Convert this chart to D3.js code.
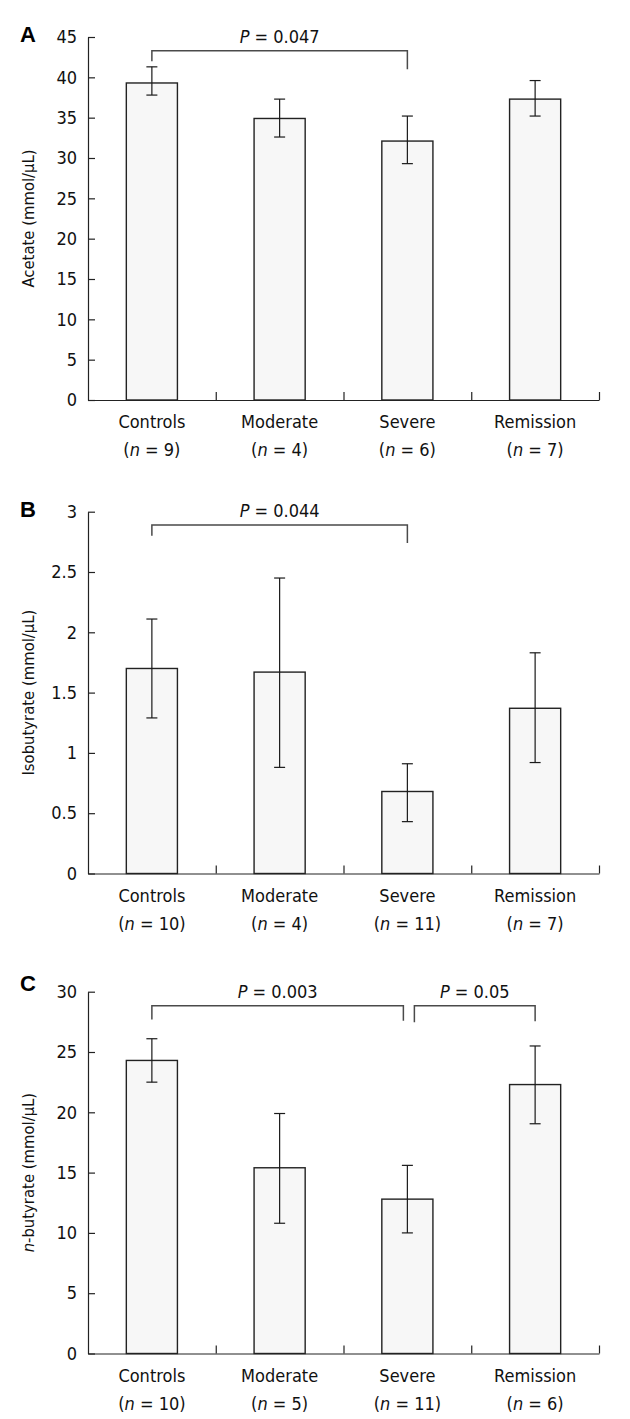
<!DOCTYPE html>
<html>
<head>
<meta charset="utf-8">
<script src="https://cdn.jsdelivr.net/npm/d3@7"></script>
<style>
  html, body { margin: 0; padding: 0; background: #fff; }
  svg { display: block; }
  .t { font-family: "DejaVu Sans Condensed", "DejaVu Sans", sans-serif; font-stretch: condensed; fill: #111; }
</style>
</head>
<body>
<svg id="chart" width="630" height="1419"></svg>
<script>
// ---------------- DATA ----------------
const categories = ["Controls", "Moderate", "Severe", "Remission"];

const acetateN    = [9, 4, 6, 7];
const acetateMean = [39.3, 34.9, 32.1, 37.3];
const acetateHigh = [41.3, 37.3, 35.2, 39.6];
const acetateLow  = [37.8, 32.6, 29.3, 35.2];
const acetateTicks = [0, 5, 10, 15, 20, 25, 30, 35, 40, 45];

const isobutyrateN    = [10, 4, 11, 7];
const isobutyrateMean = [1.70, 1.67, 0.68, 1.37];
const isobutyrateHigh = [2.11, 2.45, 0.91, 1.83];
const isobutyrateLow  = [1.29, 0.88, 0.43, 0.92];
const isobutyrateTicks = [0, 0.5, 1, 1.5, 2, 2.5, 3];

const butyrateN    = [10, 5, 11, 6];
const butyrateMean = [24.3, 15.4, 12.8, 22.3];
const butyrateHigh = [26.1, 19.9, 15.6, 25.5];
const butyrateLow  = [22.5, 10.8, 10.0, 19.05];
const butyrateTicks = [0, 5, 10, 15, 20, 25, 30];

// significance brackets: from category, to category, bracket level, leg ends, p-label
const acetateBrackets = [
  { from: "Controls", to: "Severe", level: 43.3, legFrom: 42.0, legTo: 41.0, p: "0.047" }
];
const isobutyrateBrackets = [
  { from: "Controls", to: "Severe", level: 2.89, legFrom: 2.80, legTo: 2.74, p: "0.044" }
];
const butyrateBrackets = [
  { from: "Controls", to: "Severe", level: 28.84, legFrom: 27.7, legTo: 27.6, p: "0.003", dxFrom: 0, dxTo: -4 },
  { from: "Severe", to: "Remission", level: 28.84, legFrom: 27.46, legTo: 27.55, p: "0.05", dxFrom: 7, dxTo: 0 }
];

// ---------------- LAYOUT ----------------
const svg = d3.select("#chart");
const xLeft = 88, xRight = 599;
const x = d3.scaleBand().domain(categories).range([xLeft, xRight]).paddingInner(0.6).paddingOuter(0.3);
const xBound = d3.scaleLinear().domain([0, categories.length]).range([xLeft, xRight]);

const panels = [
  { letter: "A", top: 37, bottom: 400, max: 45, ticks: acetateTicks, mean: acetateMean, high: acetateHigh, low: acetateLow, n: acetateN, brackets: acetateBrackets, label: [{ t: "Acetate (mmol/μL)" }], letterY: 42 },
  { letter: "B", top: 511.7, bottom: 873.5, max: 3, ticks: isobutyrateTicks, mean: isobutyrateMean, high: isobutyrateHigh, low: isobutyrateLow, n: isobutyrateN, brackets: isobutyrateBrackets, label: [{ t: "Isobutyrate (mmol/μL)" }], letterY: 517 },
  { letter: "C", top: 991.7, bottom: 1353.5, max: 30, ticks: butyrateTicks, mean: butyrateMean, high: butyrateHigh, low: butyrateLow, n: butyrateN, brackets: butyrateBrackets, label: [{ t: "n", i: true }, { t: "-butyrate (mmol/μL)" }], letterY: 991 }
];

const fmt = d3.format("~g");
const FS = 18;

panels.forEach(p => {
  const g = svg.append("g");
  const y = d3.scaleLinear().domain([0, p.max]).range([p.bottom, p.top]);

  // panel letter
  g.append("text")
    .attr("x", 20).attr("y", p.letterY)
    .style("font-family", "'Liberation Sans', Arial, sans-serif")
    .style("font-weight", "bold").style("font-size", "22px").style("fill", "#000")
    .text(p.letter);

  // bars
  g.selectAll("rect.bar").data(categories).enter().append("rect")
    .attr("x", d => x(d)).attr("width", x.bandwidth())
    .attr("y", (d, i) => y(p.mean[i]))
    .attr("height", (d, i) => y(0) - y(p.mean[i]))
    .attr("fill", "#f7f7f7").attr("stroke", "#222").attr("stroke-width", 1.4);

  // error bars
  const eb = g.selectAll("g.eb").data(categories).enter().append("g")
    .attr("stroke", "#1a1a1a").attr("stroke-width", 1.2);
  eb.append("line")
    .attr("x1", d => x(d) + x.bandwidth() / 2).attr("x2", d => x(d) + x.bandwidth() / 2)
    .attr("y1", (d, i) => y(p.high[i])).attr("y2", (d, i) => y(p.low[i]));
  eb.append("line")
    .attr("x1", d => x(d) + x.bandwidth() / 2 - 5.5).attr("x2", d => x(d) + x.bandwidth() / 2 + 5.5)
    .attr("y1", (d, i) => y(p.high[i])).attr("y2", (d, i) => y(p.high[i]));
  eb.append("line")
    .attr("x1", d => x(d) + x.bandwidth() / 2 - 5.5).attr("x2", d => x(d) + x.bandwidth() / 2 + 5.5)
    .attr("y1", (d, i) => y(p.low[i])).attr("y2", (d, i) => y(p.low[i]));

  // y axis
  const ya = g.append("g").attr("transform", `translate(${xLeft},0)`)
    .call(d3.axisLeft(y).tickValues(p.ticks).tickFormat(fmt).tickSizeInner(-7).tickSizeOuter(0).tickPadding(11));
  ya.selectAll("path, line").attr("stroke", "#222").attr("stroke-width", 1.2);
  ya.selectAll("text").attr("class", "t").style("font-size", FS + "px").attr("fill", "#111");

  // x axis (boundary ticks pointing up)
  const xa = g.append("g").attr("transform", `translate(0,${p.bottom})`)
    .call(d3.axisBottom(xBound).tickValues(d3.range(1, categories.length + 1)).tickFormat("").tickSizeInner(-8).tickSizeOuter(0));
  xa.selectAll("path, line").attr("stroke", "#222").attr("stroke-width", 1.2);

  // category labels
  const lab = g.selectAll("g.cl").data(categories).enter().append("g")
    .attr("transform", d => `translate(${x(d) + x.bandwidth() / 2},${p.bottom})`);
  lab.append("text").attr("class", "t").attr("text-anchor", "middle")
    .attr("y", 28).style("font-size", FS + "px").text(d => d);
  const nt = lab.append("text").attr("class", "t").attr("text-anchor", "middle")
    .attr("y", 56).style("font-size", FS + "px");
  nt.append("tspan").text("(");
  nt.append("tspan").style("font-style", "italic").text("n");
  nt.append("tspan").text((d, i) => " = " + p.n[i] + ")");

  // y label
  const yl = g.append("text").attr("class", "t").attr("text-anchor", "middle")
    .attr("transform", `translate(34,${(p.top + p.bottom) / 2}) rotate(-90)`)
    .style("font-size", "16.5px");
  p.label.forEach(s => yl.append("tspan").style("font-style", s.i ? "italic" : "normal").text(s.t));

  // brackets
  p.brackets.forEach(b => {
    const x1 = x(b.from) + x.bandwidth() / 2 + (b.dxFrom || 0);
    const x2 = x(b.to) + x.bandwidth() / 2 + (b.dxTo || 0);
    g.append("path")
      .attr("d", `M${x1},${y(b.legFrom)}V${y(b.level)}H${x2}V${y(b.legTo)}`)
      .attr("fill", "none").attr("stroke", "#4a4a4a").attr("stroke-width", 1.5);
    const tx = g.append("text").attr("class", "t").attr("text-anchor", "middle")
      .attr("x", (x1 + x2) / 2).attr("y", y(b.level) - 8)
      .style("font-size", FS + "px");
    tx.append("tspan").style("font-style", "italic").text("P");
    tx.append("tspan").text(" = " + b.p);
  });
});
</script>
</body>
</html>
